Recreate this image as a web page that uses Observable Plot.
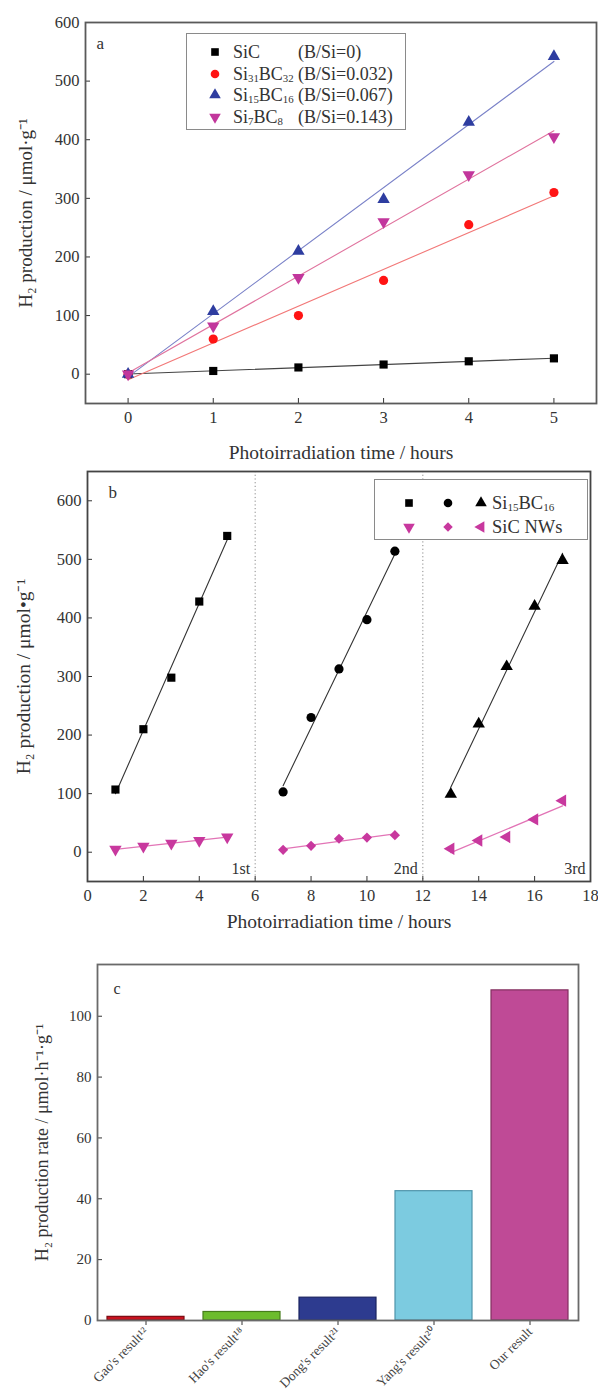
<!DOCTYPE html>
<html><head><meta charset="utf-8">
<script src="https://cdn.jsdelivr.net/npm/d3@7"></script>
<script src="https://cdn.jsdelivr.net/npm/@observablehq/plot@0.6"></script>
<style>
body{margin:0;background:#fff;width:598px;overflow:hidden;}
.panel{position:relative;width:598px;}
.panel svg{display:block;}
.legend{position:absolute;border:1.5px solid #8a8a8a;background:#fff;font-family:"Liberation Serif",serif;color:#333;box-sizing:border-box;}
.legend .it{position:absolute;white-space:nowrap;line-height:1;}
.legend svg{position:absolute;overflow:visible;}
sub{font-size:0.6em;vertical-align:-0.15em;line-height:0;}
</style></head><body>
<div id="pa" class="panel"></div>
<div id="pb" class="panel"></div>
<div id="pc" class="panel"></div>
<script>
// ---------- Panel a data ----------
const hoursA = [0, 1, 2, 3, 4, 5];
const seriesA = ["SiC", "Si31BC32", "Si15BC16", "Si7BC8"];
const sicA = [0, 5.5, 11.5, 16.5, 22, 27];
const si31A = [0, 60, 100, 160, 255, 310];
const si15A = [0, 107, 210, 298, 430, 542];
const si7A = [0, 82, 165, 260, 340, 405];
const ratioA = ["(B/Si=0)", "(B/Si=0.032)", "(B/Si=0.067)", "(B/Si=0.143)"];
const yTicksA = [0, 100, 200, 300, 400, 500, 600];

// ---------- Panel b data ----------
const cycleLabels = ["1st", "2nd", "3rd"];
const cycleEnds = [6, 12, 18];
const hoursB = [[1, 2, 3, 4, 5], [7, 8, 9, 10, 11], [13, 14, 15, 16, 17]];
const si15B = [[107, 210, 298, 428, 540], [103, 230, 313, 397, 514], [99, 219, 317, 420, 498]];
const nwB = [[5, 10, 15, 20, 26], [4, 11, 23, 25, 29], [6, 20, 26, 56, 88]];
const xTicksB = [0, 2, 4, 6, 8, 10, 12, 14, 16, 18];
const yTicksB = [0, 100, 200, 300, 400, 500, 600];

// ---------- Panel c data ----------
const studies = ["Gao's result¹²", "Hao's result¹⁸", "Dong's result²¹", "Yang's result²⁰", "Our result"];
const rates = [1.2, 2.8, 7.5, 42.5, 108.5];
const yTicksC = [0, 20, 40, 60, 80, 100];

// ---------- styles ----------
const FONT = "Liberation Serif";
const colA = ["#000000", "#ff1414", "#2e3da0", "#c2369c"];
const lineA = ["#444444", "#f27878", "#7a82c8", "#e0739e"];
const symA = ["square", "circle", "triangle", "triangle"];
const rotA = [0, 0, 0, 180];
const barFill = ["#c8121f", "#6cbc2c", "#2d3b8f", "#7ccbe0", "#bf4a96"];
const barStroke = ["#7c0a12", "#467d1b", "#1a2360", "#4f94aa", "#83305f"];

function symbolPath(name, r, rot) {
  const map = {square: d3.symbolSquare, circle: d3.symbolCircle, triangle: d3.symbolTriangle, diamond2: d3.symbolDiamond2};
  const p = d3.symbol(map[name], r * r * Math.PI)();
  return `<path d="${p}" transform="rotate(${rot})"/>`;
}
function symbolEl(name, color, r, rot, x, y) {
  return `<svg style="left:${x}px;top:${y}px" width="1" height="1"><g fill="${color}">${symbolPath(name, r, rot)}</g></svg>`;
}

// ================= Panel a =================
const dataA = [];
seriesA.forEach((s, k) => {
  const vals = [sicA, si31A, si15A, si7A][k];
  hoursA.forEach((h, i) => dataA.push({series: s, t: h, v: vals[i]}));
});

const plotA = Plot.plot({
  width: 598, height: 464,
  marginTop: 22, marginBottom: 61, marginLeft: 85, marginRight: 2,
  x: {domain: [-0.5, 5.5]},
  y: {domain: [-50, 600]},
  color: {domain: seriesA, range: colA},
  symbol: {domain: seriesA, range: symA},
  style: {fontFamily: FONT, fontSize: "16px", color: "#333", background: "#fff"},
  marks: [
    Plot.axisX({ticks: hoursA, tickSize: -5, tickPadding: 13, tickFormat: d => d, label: null, fontSize: 16.5}),
    Plot.axisX({ticks: [], tickSize: 0, label: "Photoirradiation time / hours", labelArrow: "none", labelAnchor: "center", labelOffset: 55, fontSize: 19.5}),
    Plot.axisY({ticks: yTicksA, tickSize: -5, tickPadding: 11, tickFormat: d => d, label: null, fontSize: 16.5}),
    Plot.axisY({ticks: [], tickSize: 0, label: "H₂ production / μmol·g⁻¹", labelArrow: "none", labelAnchor: "center", labelOffset: 67, fontSize: 19}),
    Plot.linearRegressionY(dataA, {x: "t", y: "v", z: "series", stroke: d => lineA[seriesA.indexOf(d.series)], ci: 0, strokeWidth: 1.1}),
    Plot.dot(dataA, {x: "t", y: "v", symbol: "series", fill: "series", r: 4.6, rotate: d => rotA[seriesA.indexOf(d.series)]}),
    Plot.text(["a"], {frameAnchor: "top-left", dx: 11, dy: 14, fontSize: 17, fill: "#333"}),
    Plot.frame({stroke: "#5a5a5a", strokeWidth: 1.8})
  ]
});
document.getElementById("pa").appendChild(plotA);

// legend a
(function () {
  const lg = document.createElement("div");
  lg.className = "legend";
  Object.assign(lg.style, {left: "186px", top: "33px", width: "220px", height: "97px", fontSize: "18px"});
  const names = ["SiC", "Si<sub>31</sub>BC<sub>32</sub>", "Si<sub>15</sub>BC<sub>16</sub>", "Si<sub>7</sub>BC<sub>8</sub>"];
  let html = "";
  names.forEach((n, i) => {
    const y = 18 + i * 21.7;
    html += symbolEl(symA[i], colA[i], 4.3, rotA[i], 28, y);
    html += `<div class="it" style="left:46px;top:${y - 9}px">${n}</div>`;
    html += `<div class="it" style="left:111px;top:${y - 9}px">${ratioA[i]}</div>`;
  });
  lg.innerHTML = html;
  document.getElementById("pa").appendChild(lg);
})();

// ================= Panel b =================
const dataB = [];
const symB1 = ["square", "circle", "triangle"];
const symB2 = ["triangle", "diamond2", "triangle"];
const rotB2 = [180, 0, -90];
hoursB.forEach((hs, c) => {
  hs.forEach((h, i) => {
    dataB.push({group: "si15-" + c, kind: "si15", cycle: c, t: h, v: si15B[c][i]});
    dataB.push({group: "nw-" + c, kind: "nw", cycle: c, t: h, v: nwB[c][i]});
  });
});
const si15Data = dataB.filter(d => d.kind === "si15");
const nwData = dataB.filter(d => d.kind === "nw");
const pinkB = "#c8389e";
const pinkLineB = "#e274b6";

const plotB = Plot.plot({
  width: 598, height: 466,
  marginTop: 7, marginBottom: 49, marginLeft: 87, marginRight: 8,
  x: {domain: [0, 18]},
  y: {domain: [-50, 650]},
  style: {fontFamily: FONT, fontSize: "16px", color: "#333", background: "#fff"},
  marks: [
    Plot.ruleX(cycleEnds.slice(0, 2), {stroke: "#8a8a8a", strokeDasharray: "1.2,2.5", strokeWidth: 1}),
    Plot.axisX({ticks: xTicksB, tickSize: -5, tickPadding: 13, tickFormat: d => d, label: null, fontSize: 16.5}),
    Plot.axisX({ticks: [], tickSize: 0, label: "Photoirradiation time / hours", labelArrow: "none", labelAnchor: "center", labelOffset: 46, fontSize: 19.5}),
    Plot.axisY({ticks: yTicksB, tickSize: -5, tickPadding: 11, tickFormat: d => d, label: null, fontSize: 16.5}),
    Plot.axisY({ticks: [], tickSize: 0, label: "H₂ production / μmol•g⁻¹", labelArrow: "none", labelAnchor: "center", labelOffset: 71, fontSize: 19.5}),
    Plot.linearRegressionY(si15Data, {x: "t", y: "v", z: "group", stroke: "#333", ci: 0, strokeWidth: 1.1}),
    Plot.linearRegressionY(nwData, {x: "t", y: "v", z: "group", stroke: pinkLineB, ci: 0, strokeWidth: 1.3}),
    Plot.dot(si15Data, {x: "t", y: "v", symbol: d => symB1[d.cycle], fill: "#000", r: 4.6}),
    Plot.dot(nwData, {x: "t", y: "v", symbol: d => symB2[d.cycle], fill: pinkB, r: 4.6, rotate: d => rotB2[d.cycle]}),
    Plot.text(cycleLabels, {x: (d, i) => cycleEnds[i], y: () => -28, dx: -5, textAnchor: "end", fontSize: 16, fill: "#333"}),
    Plot.text(["b"], {frameAnchor: "top-left", dx: 21, dy: 14, fontSize: 17, fill: "#333"}),
    Plot.frame({stroke: "#444", strokeWidth: 1.8})
  ]
});
document.getElementById("pb").appendChild(plotB);

// legend b
(function () {
  const lg = document.createElement("div");
  lg.className = "legend";
  Object.assign(lg.style, {left: "374px", top: "15px", width: "214px", height: "61px", fontSize: "18.5px"});
  let html = "";
  const xs = [34, 73, 106];
  [0, 1, 2].forEach(i => {
    html += symbolEl(symB1[i], "#000", 4.3, 0, xs[i], 23);
    html += symbolEl(symB2[i], pinkB, 4.3, rotB2[i], xs[i], 47);
  });
  html += `<div class="it" style="left:117px;top:14px">Si<sub>15</sub>BC<sub>16</sub></div>`;
  html += `<div class="it" style="left:117px;top:38px">SiC NWs</div>`;
  lg.innerHTML = html;
  document.getElementById("pb").appendChild(lg);
})();

// ================= Panel c =================
const dataC = studies.map((s, i) => ({study: s, rate: rates[i]}));
const plotC = Plot.plot({
  width: 598, height: 463,
  marginTop: 34, marginBottom: 73, marginLeft: 97, marginRight: 20,
  x: {domain: studies, paddingInner: 0.2, paddingOuter: 0.1},
  y: {domain: [0, 117]},
  color: {domain: studies, range: barFill},
  style: {fontFamily: FONT, fontSize: "13px", color: "#333", background: "#fff"},
  marks: [
    Plot.barY(dataC, {x: "study", y: "rate", fill: "study", stroke: (d, i) => barStroke[i], strokeWidth: 1.2}),
    Plot.axisX({tickSize: 5, tickPadding: 4, tickRotate: -45, label: null, fontSize: 13.5, fill: "#444"}),
    Plot.axisY({ticks: yTicksC, tickSize: -5, tickPadding: 11, tickFormat: d => d, label: null, fontSize: 15}),
    Plot.axisY({ticks: [], tickSize: 0, label: "H₂ production rate / μmol·h⁻¹·g⁻¹", labelArrow: "none", labelAnchor: "center", labelOffset: 62, fontSize: 18}),
    Plot.text(["c"], {frameAnchor: "top-left", dx: 16, dy: 18, fontSize: 16, fill: "#333"}),
    Plot.frame({stroke: "#6a6a6a", strokeWidth: 1.8})
  ]
});
document.getElementById("pc").appendChild(plotC);
</script>
</body></html>
